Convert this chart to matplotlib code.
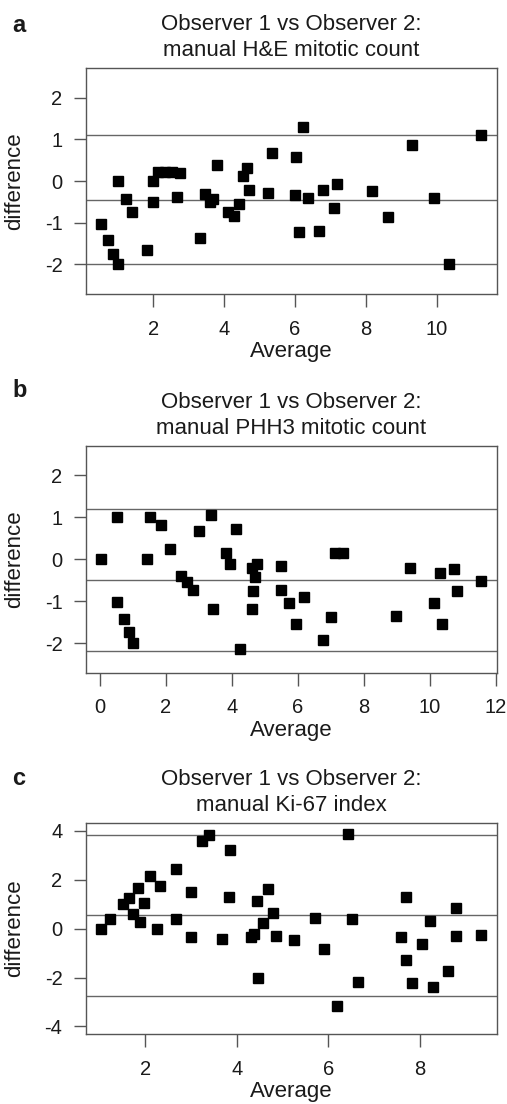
import numpy as np
import matplotlib.pyplot as plt

plt.rcParams['font.family'] = ['Liberation Sans', 'DejaVu Sans']
plt.rcParams['axes.unicode_minus'] = False

# panel a: manual H&E mitotic count
he_avg = [0.51, 0.71, 0.87, 1.0, 1.0, 1.23, 1.39, 1.82, 2.0, 2.0, 2.14, 2.33, 2.52, 2.75,
          2.66, 3.32, 3.47, 3.6, 3.69, 3.81, 4.11, 4.29, 4.41, 4.52, 4.64, 4.69, 5.25,
          5.34, 6.02, 5.99, 6.1, 6.22, 6.37, 6.68, 6.8, 7.09, 7.18, 8.17, 8.61, 9.31,
          9.92, 10.35, 11.25]
he_diff = [-1.02, -1.42, -1.75, -2.0, 0.0, -0.43, -0.74, -1.66, 0.0, -0.51, 0.22, 0.22,
           0.21, 0.18, -0.39, -1.37, -0.3, -0.5, -0.42, 0.39, -0.74, -0.83, -0.56, 0.12,
           0.32, -0.22, -0.28, 0.66, 0.58, -0.33, -1.23, 1.29, -0.4, -1.2, -0.22, -0.64,
           -0.07, -0.24, -0.87, 0.86, -0.41, -2.0, 1.1]
he_lines = [1.10, -0.46, -2.0]

# panel b: manual PHH3 mitotic count
phh3_avg = [0.03, 0.51, 0.51, 0.74, 0.88, 1.01, 1.43, 1.52, 1.84, 2.12, 2.46, 2.63, 2.81,
            3.0, 3.36, 3.43, 3.82, 3.94, 4.13, 4.23, 4.6, 4.63, 4.62, 4.7, 4.75, 5.49,
            5.48, 5.73, 5.95, 6.19, 6.77, 7.01, 7.13, 7.36, 8.97, 9.38, 10.11, 10.31,
            10.36, 10.74, 10.82, 11.56]
phh3_diff = [0.0, 1.0, -1.01, -1.41, -1.74, -2.0, 0.0, 1.0, 0.83, 0.24, -0.4, -0.53,
             -0.72, 0.67, 1.05, -1.18, 0.14, -0.11, 0.73, -2.13, -0.21, -0.76, -1.19,
             -0.43, -0.1, -0.17, -0.73, -1.05, -1.53, -0.89, -1.91, -1.37, 0.14, 0.14,
             -1.34, -0.21, -1.03, -0.33, -1.54, -0.23, -0.75, -0.52]
phh3_lines = [1.19, -0.50, -2.18]

# panel c: manual Ki-67 index
ki_avg = [1.02, 1.23, 1.52, 1.63, 1.72, 1.83, 1.88, 1.96, 2.1, 2.25, 2.31, 2.66, 2.66,
          2.99, 2.99, 3.23, 3.38, 3.67, 3.83, 3.85, 4.31, 4.38, 4.44, 4.47, 4.58, 4.68,
          4.8, 4.85, 5.24, 5.7, 5.9, 6.18, 6.43, 6.52, 6.66, 7.58, 7.71, 7.71, 7.83,
          8.06, 8.22, 8.28, 8.62, 8.8, 8.8, 9.35]
ki_diff = [0.0, 0.4, 1.0, 1.24, 0.6, 1.65, 0.29, 1.04, 2.16, 0.0, 1.75, 0.38, 2.46,
           -0.35, 1.49, 3.59, 3.85, -0.42, 1.31, 3.22, -0.35, -0.23, 1.12, -2.0, 0.22,
           1.61, 0.63, -0.31, -0.48, 0.42, -0.85, -3.15, 3.87, 0.38, -2.17, -0.33, 1.31,
           -1.28, -2.24, -0.61, 0.31, -2.4, -1.73, 0.86, -0.3, -0.26]
ki_lines = [3.85, 0.55, -2.76]

panels = [
    ('a', 'Observer 1 vs Observer 2:\nmanual H&E mitotic count', he_avg, he_diff, he_lines,
     (0.10, 11.70), (-2.71, 2.71), [2, 4, 6, 8, 10], [-2, -1, 0, 1, 2],
     [0.1696, 0.7337, 0.8107, 0.2047], 32),
    ('b', 'Observer 1 vs Observer 2:\nmanual PHH3 mitotic count', phh3_avg, phh3_diff, phh3_lines,
     (-0.42, 12.03), (-2.70, 2.70), [0, 2, 4, 6, 8, 10, 12], [-2, -1, 0, 1, 2],
     [0.1696, 0.3907, 0.8107, 0.2053], 397),
    ('c', 'Observer 1 vs Observer 2:\nmanual Ki-67 index', ki_avg, ki_diff, ki_lines,
     (0.70, 9.69), (-4.31, 4.31), [2, 4, 6, 8], [-4, -2, 0, 2, 4],
     [0.1696, 0.0634, 0.8107, 0.1908], 785),
]

H = 1104
fig = plt.figure(figsize=(5.07, 11.04), dpi=100)
txt = '#1a1a1a'
grey = '#555555'

for letter, title, x, y, lines, xl, yl, xt, yt, pos, let_y in panels:
    ax = fig.add_axes(pos)
    for v in lines:
        ax.axhline(v, color='#666666', lw=1.0, zorder=1)
    ax.plot(x, y, 's', color='black', markersize=7.3, zorder=3)
    ax.set_xlim(*xl)
    ax.set_ylim(*yl)
    ax.set_xticks(xt)
    ax.set_yticks(yt)
    ax.tick_params(direction='out', length=9, width=1.0, color=grey,
                   labelsize=14.5, labelcolor=txt, pad=8)
    ax.tick_params(axis='x', pad=9.5)
    for s in ax.spines.values():
        s.set_color(grey)
        s.set_linewidth(1.0)
    ax.set_title(title, fontsize=16, color=txt, pad=9, linespacing=1.3)
    ax.set_xlabel('Average', fontsize=16, color=txt, labelpad=2)
    ax.set_ylabel('difference', fontsize=16, color=txt)
    ax.yaxis.set_label_coords(-0.148, 0.5)
    fig.text(12 / 507, 1 - let_y / H, letter, fontsize=17, fontweight='bold',
             color=txt, va='baseline', ha='left')

plt.savefig('out.png', dpi=100)
